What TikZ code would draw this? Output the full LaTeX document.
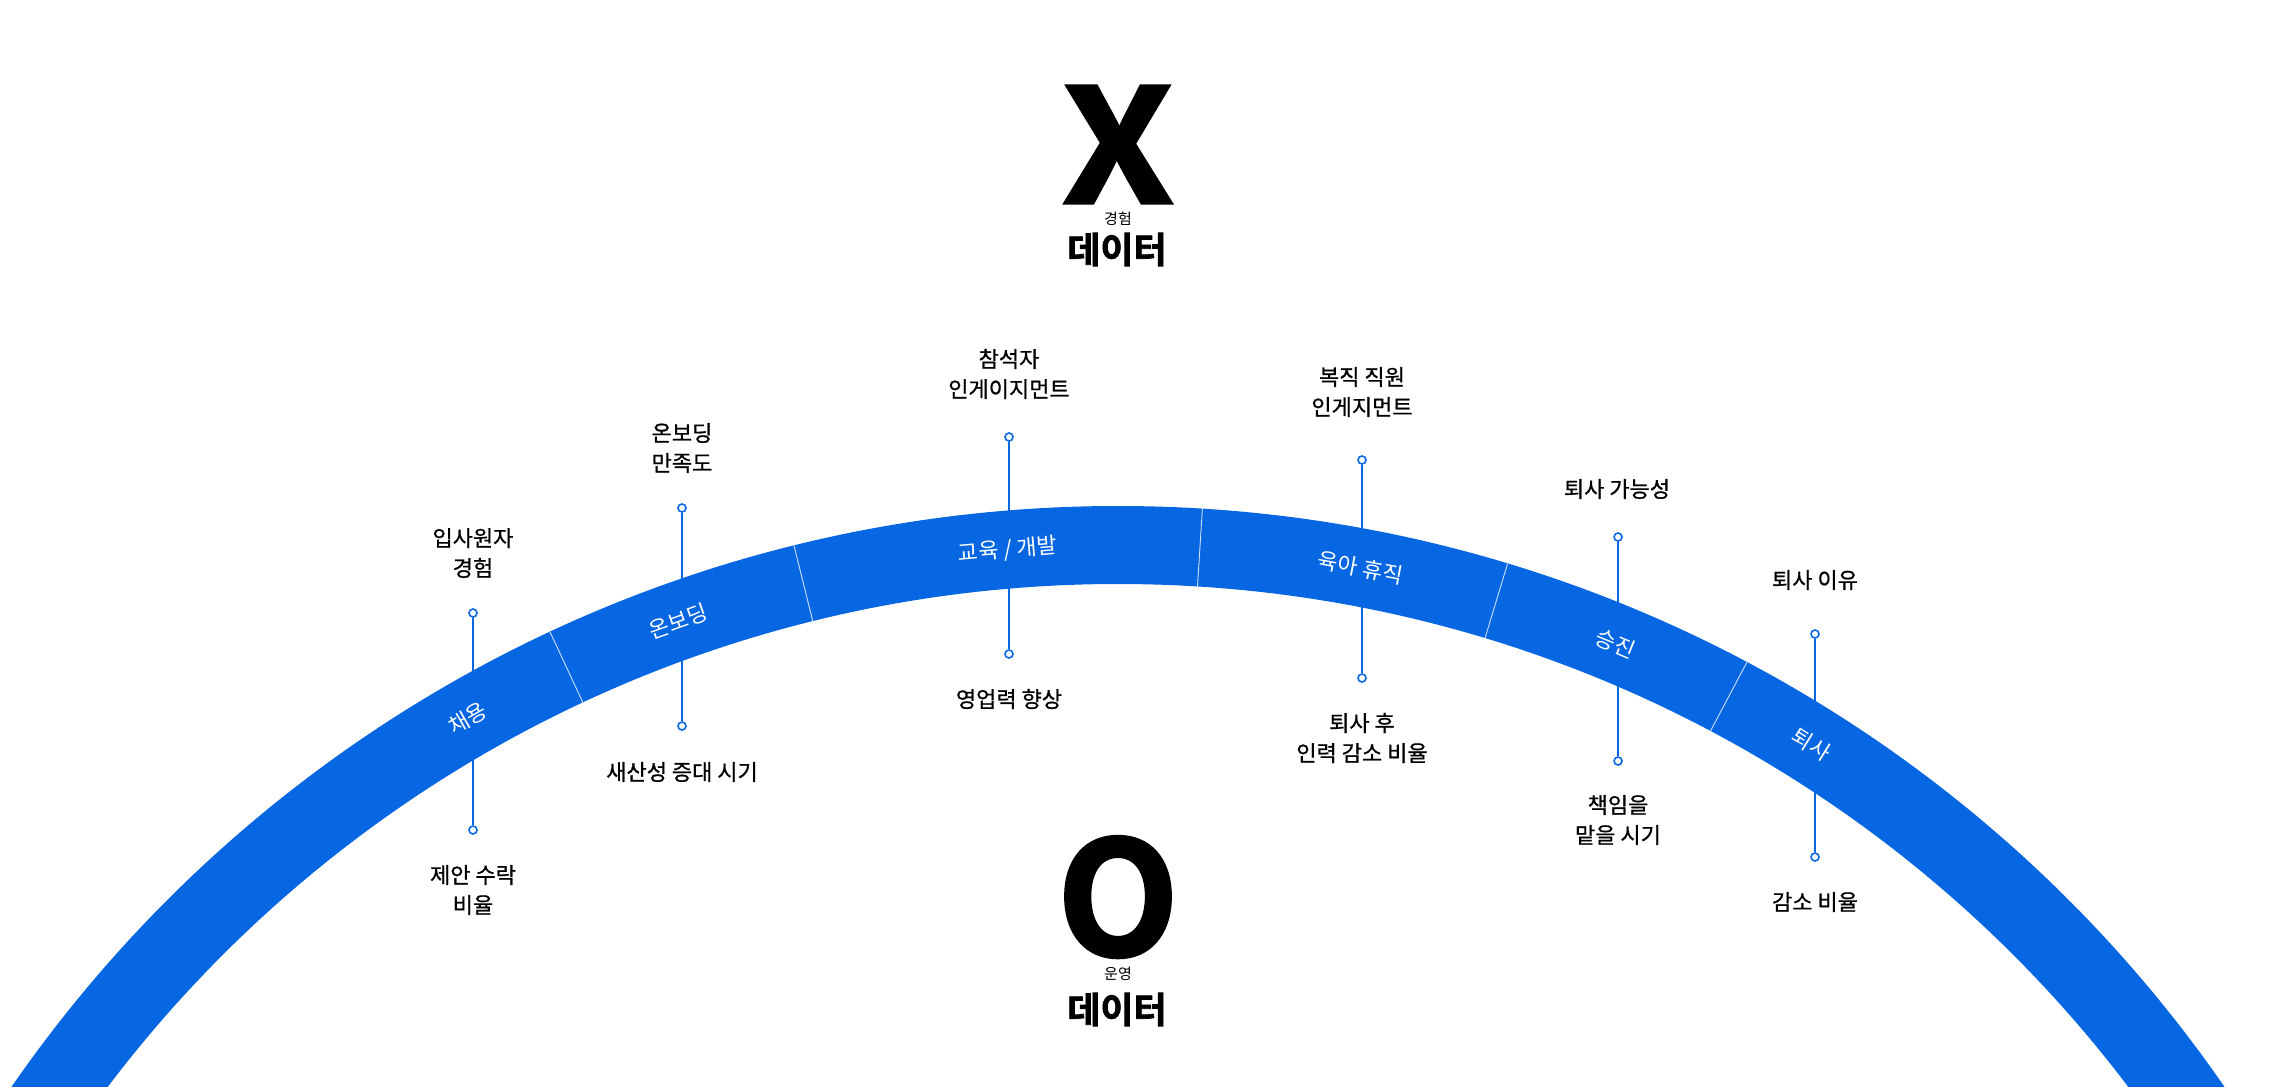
\documentclass[tikz,border=0pt]{standalone}
\usepackage{fontspec}
\setmainfont{Noto Sans CJK KR}
\newfontfamily\medfont{Noto Sans CJK KR}[FakeBold=0.8]
\newfontfamily\heavyfont{Noto Sans CJK KR Bold}[FakeBold=2]
\usetikzlibrary{calc}
\definecolor{bandblue}{HTML}{0766E1}
\begin{document}
\begin{tikzpicture}[x=1pt,y=-1pt,
  lbl/.style={font=\fontsize{22}{30}\selectfont\medfont, align=center, inner sep=0pt, text=black},
  seg/.style={font=\fontsize{22}{26}\selectfont, text=white, inner sep=0pt},
  dot/.style={circle, draw=bandblue, fill=white, line width=1.6pt, minimum size=8pt, inner sep=0pt},
  pinline/.style={draw=bandblue, line width=1.8pt},
  sepline/.style={draw=white!80!bandblue, line width=0.9pt},
  big/.style={font=\fontsize{158}{158}\selectfont\heavyfont, inner sep=0pt, text height=115pt, text depth=0pt},
  data/.style={font=\fontsize{36}{36}\selectfont\heavyfont, inner sep=0pt, text height=30pt, text depth=0pt},
  sub/.style={font=\fontsize{15}{15}\selectfont, inner sep=0pt, text height=11pt, text depth=0pt}]
\useasboundingbox (0,0) rectangle (2286,1087);
\coordinate (C) at (1118,1850);

% headline marks
\node[big, xscale=1.12] (X) at (1118,145.5) {X};
\node[sub] (xsub) at (1118,219) {경험};
\node[data] (xdata) at (1117,248) {데이터};
\node[big] (O) at (1118,898) {O};
\node[sub] (osub) at (1118,974) {운영};
\node[data] (odata) at (1117,1008) {데이터};

% indicator pins
\node[dot] (t1) at (473,613) {};  \node[dot] (b1) at (473,830) {};
\node[dot] (t2) at (682,508) {};  \node[dot] (b2) at (682,726) {};
\node[dot] (t3) at (1009,437) {}; \node[dot] (b3) at (1009,654) {};
\node[dot] (t4) at (1362,460) {}; \node[dot] (b4) at (1362,678) {};
\node[dot] (t5) at (1618,537) {}; \node[dot] (b5) at (1618,761) {};
\node[dot] (t6) at (1815,634) {}; \node[dot] (b6) at (1815,857) {};
\draw[pinline] (t1) -- (b1);
\draw[pinline] (t2) -- (b2);
\draw[pinline] (t3) -- (b3);
\draw[pinline] (t4) -- (b4);
\draw[pinline] (t5) -- (b5);
\draw[pinline] (t6) -- (b6);

% band
\begin{scope}
\clip (0,0) rectangle (2286,1086);
\fill[bandblue, even odd rule] (C) circle[radius=1344pt] (C) circle[radius=1266pt];
\end{scope}
\foreach \a in {-25.0,-13.95,3.6,16.85,27.9}
  \draw[sepline] ($(C)+(-90+\a:1266)$) -- ($(C)+(-90+\a:1344)$);

% band labels
\node[seg, rotate=29.9]  (s1) at ($(C)+(-119.9:1305)$) {채용};
\node[seg, rotate=19.7]  (s2) at ($(C)+(-109.7:1305)$) {온보딩};
\node[seg, rotate=4.84]  (s3) at ($(C)+(-94.84:1305)$) {교육 / 개발};
\node[seg, rotate=-10.7] (s4) at ($(C)+(-79.3:1305)$) {육아 휴직};
\node[seg, rotate=-22.4] (s5) at ($(C)+(-67.6:1305)$) {승진};
\node[seg, rotate=-32.1] (s6) at ($(C)+(-57.9:1305)$) {퇴사};

% labels above
\node[lbl] (a1) at (473,553) {입사원자\\경험};
\node[lbl] (a2) at (682,448) {온보딩\\만족도};
\node[lbl] (a3) at (1009,374) {참석자\\인게이지먼트};
\node[lbl] (a4) at (1362,392) {복직 직원\\인게지먼트};
\node[lbl] (a5) at (1617,489) {퇴사 가능성};
\node[lbl] (a6) at (1815,580) {퇴사 이유};
% labels below
\node[lbl] (u1) at (473,890) {제안 수락\\비율};
\node[lbl] (u2) at (682,772) {새산성 증대 시기};
\node[lbl] (u3) at (1009,699) {영업력 향상};
\node[lbl] (u4) at (1362,738) {퇴사 후\\인력 감소 비율};
\node[lbl] (u5) at (1618,820) {책임을\\맡을 시기};
\node[lbl] (u6) at (1815,902) {감소 비율};
\end{tikzpicture}
\end{document}
